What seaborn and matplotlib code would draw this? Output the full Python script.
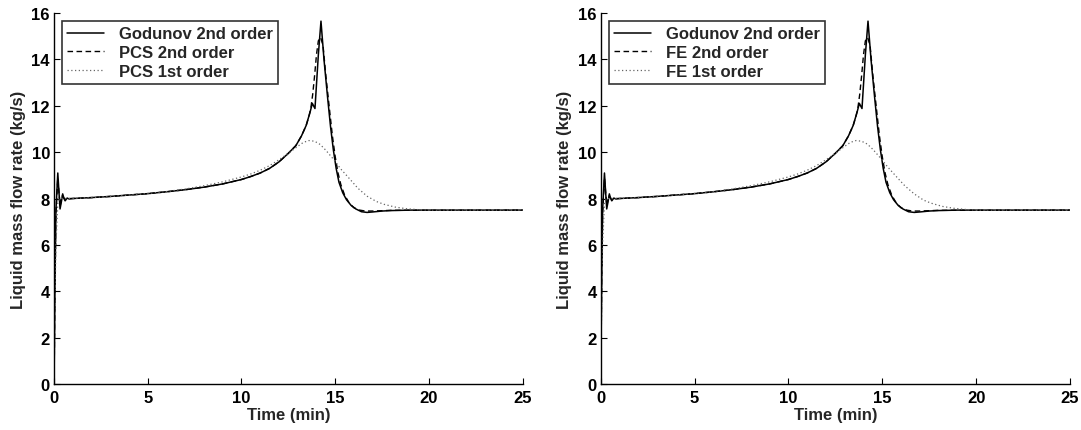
import numpy as np
import pandas as pd
import matplotlib
matplotlib.use("Agg")
import matplotlib.pyplot as plt
import seaborn as sns

# ---- data ----
t_god = [0, 0.05, 0.1, 0.2, 0.26, 0.32, 0.4, 0.46, 0.53, 0.59, 0.7, 0.8, 1.0, 2, 3, 4, 5, 6, 7, 8, 9,
         10, 10.5, 11, 11.5, 12, 12.5, 12.9, 13.2, 13.45, 13.65, 13.78, 13.92, 14.1, 14.24, 14.4, 14.6,
         14.75, 14.9, 15.05, 15.2, 15.4, 15.6, 15.85, 16.1, 16.4, 16.7, 17.0, 17.5, 18, 19, 25]
y_god = [0, 4.4, 7.5, 9.1, 8.3, 7.55, 7.9, 8.2, 8.0, 7.9, 8.02, 7.98, 8.0, 8.04, 8.09, 8.15, 8.21, 8.29,
         8.38, 8.49, 8.63, 8.82, 8.95, 9.1, 9.3, 9.58, 9.95, 10.28, 10.7, 11.15, 11.7, 12.1, 11.88, 14.2,
         15.65, 14.0, 12.3, 11.1, 10.1, 9.3, 8.7, 8.25, 7.95, 7.7, 7.55, 7.43, 7.4, 7.42, 7.46, 7.48, 7.5, 7.5]

t_pcs2 = [0, 0.05, 0.1, 0.2, 0.27, 0.33, 0.42, 0.5, 0.6, 0.8, 1.0, 2, 3, 4, 5, 6, 7, 8, 9, 10, 10.5, 11,
          11.5, 12, 12.5, 12.9, 13.2, 13.45, 13.6, 13.7, 13.8, 13.9, 14.0, 14.1, 14.22, 14.35, 14.5, 14.7,
          14.85, 15.0, 15.15, 15.3, 15.5, 15.75, 16.0, 16.3, 16.6, 17.0, 18, 25]
y_pcs2 = [0, 4.2, 7.3, 8.9, 8.2, 7.7, 8.1, 8.05, 7.95, 8.0, 8.0, 8.04, 8.09, 8.15, 8.21, 8.29, 8.38, 8.49,
          8.63, 8.82, 8.95, 9.1, 9.3, 9.58, 9.95, 10.28, 10.7, 11.15, 11.55, 11.9, 12.5, 13.3, 14.2, 14.8,
          14.95, 14.6, 13.3, 11.8, 10.7, 9.8, 9.1, 8.6, 8.15, 7.8, 7.6, 7.5, 7.46, 7.46, 7.49, 7.5]

t_pcs1 = [0, 0.05, 0.1, 0.2, 0.3, 0.5, 1, 2, 3, 4, 5, 6, 7, 8, 9, 10, 10.5, 11, 11.5, 12, 12.5, 13.0,
          13.3, 13.6, 13.9, 14.2, 14.5, 14.9, 15.3, 15.8, 16.2, 16.7, 17.2, 17.6, 18.2, 18.8, 19.4, 20, 25]
y_pcs1 = [0, 3.5, 6.0, 7.8, 8.0, 8.0, 8.0, 8.04, 8.09, 8.15, 8.22, 8.3, 8.41, 8.55, 8.72, 8.93, 9.06,
          9.22, 9.42, 9.67, 9.95, 10.25, 10.42, 10.5, 10.47, 10.33, 10.08, 9.7, 9.27, 8.82, 8.45, 8.1,
          7.87, 7.75, 7.63, 7.56, 7.52, 7.5, 7.5]

t_fe2 = t_pcs2
y_fe2 = [0, 4.2, 7.3, 8.9, 8.2, 7.7, 8.1, 8.05, 7.95, 8.0, 8.0, 8.04, 8.09, 8.15, 8.21, 8.29, 8.38, 8.49,
         8.63, 8.82, 8.95, 9.1, 9.3, 9.58, 9.95, 10.28, 10.7, 11.15, 11.55, 11.9, 12.5, 13.3, 14.2, 14.8,
         14.95, 14.6, 13.3, 11.8, 10.7, 9.8, 9.1, 8.6, 8.15, 7.8, 7.6, 7.5, 7.46, 7.46, 7.49, 7.5]

t_fe1 = [0, 0.05, 0.1, 0.2, 0.3, 0.5, 1, 2, 3, 4, 5, 6, 7, 8, 9, 10, 10.5, 11, 11.5, 12, 12.5, 13.0,
         13.3, 13.6, 13.9, 14.2, 14.5, 14.9, 15.3, 15.8, 16.2, 16.7, 17.2, 17.6, 18.2, 18.8, 19.4, 20, 25]
y_fe1 = [0, 3.5, 6.0, 7.8, 8.0, 8.0, 8.0, 8.04, 8.09, 8.15, 8.22, 8.3, 8.41, 8.55, 8.72, 8.93, 9.06,
         9.22, 9.42, 9.67, 9.95, 10.25, 10.42, 10.5, 10.47, 10.35, 10.12, 9.75, 9.35, 8.9, 8.55, 8.2,
         7.93, 7.8, 7.66, 7.58, 7.53, 7.5, 7.5]

x_ticks = [0, 5, 10, 15, 20, 25]
y_ticks = [0, 2, 4, 6, 8, 10, 12, 14, 16]
x_label = "Time (min)"
y_label = "Liquid mass flow rate (kg/s)"

panels = [
    [("Godunov 2nd order", t_god, y_god), ("PCS 2nd order", t_pcs2, y_pcs2), ("PCS 1st order", t_pcs1, y_pcs1)],
    [("Godunov 2nd order", t_god, y_god), ("FE 2nd order", t_fe2, y_fe2), ("FE 1st order", t_fe1, y_fe1)],
]
styles = [dict(linestyle="-", lw=1.1, color="black"),
          dict(linestyle=(0, (4, 2.5)), lw=1.0, color="black"),
          dict(linestyle=(0, (1, 2)), lw=0.9, color="#666666")]

FS = 12

# ---- figure ----
sns.set_style("ticks")
plt.rcParams["font.family"] = ["Liberation Sans", "DejaVu Sans"]
plt.rcParams["font.weight"] = "bold"
plt.rcParams["axes.labelweight"] = "bold"
plt.rcParams["xtick.direction"] = "in"
plt.rcParams["ytick.direction"] = "in"

fig = plt.figure(figsize=(10.81, 4.31), dpi=100)
axes_pos = [[0.05, 0.1067, 0.4335, 0.8608], [0.5557, 0.1067, 0.4341, 0.8608]]

for pos, series in zip(axes_pos, panels):
    ax = fig.add_axes(pos)
    for (name, t, y), st in zip(series, styles):
        df = pd.DataFrame({"t": t, "y": y})
        sns.lineplot(data=df, x="t", y="y", ax=ax, estimator=None, sort=False,
                     label=name, **st)
    ax.set_xlim(0, 25)
    ax.set_ylim(0, 16)
    ax.set_xticks(x_ticks)
    ax.set_yticks(y_ticks)
    ax.tick_params(axis="both", labelsize=FS, length=4, width=0.8, colors="black", pad=3)
    ax.tick_params(axis="x", pad=4)
    for lab in ax.get_xticklabels() + ax.get_yticklabels():
        lab.set_fontweight("bold")
    ax.set_xlabel(x_label, fontsize=FS, fontweight="bold", labelpad=2)
    ax.set_ylabel(y_label, fontsize=FS, fontweight="bold", labelpad=4)
    sns.despine(ax=ax)
    for s in ["left", "bottom"]:
        ax.spines[s].set_color("black")
        ax.spines[s].set_linewidth(1.0)
    leg = ax.legend(loc="upper left", frameon=True, fancybox=False, fontsize=FS,
                    borderaxespad=0.5, handlelength=2.2, handletextpad=0.9,
                    borderpad=0.3, labelspacing=0.22)
    leg.get_frame().set_edgecolor("black")
    leg.get_frame().set_linewidth(1.2)
    for txt in leg.get_texts():
        txt.set_fontweight("bold")

fig.savefig("out.png", dpi=100)
